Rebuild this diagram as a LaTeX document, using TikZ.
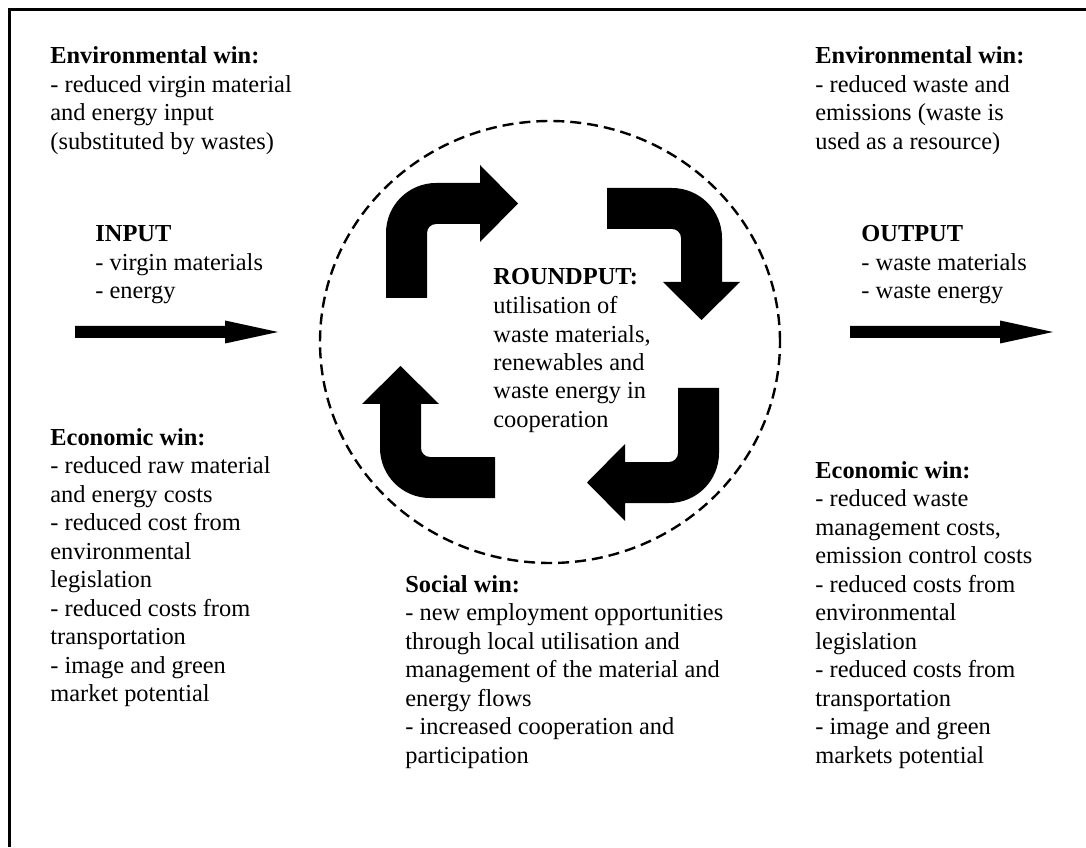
\documentclass[tikz,border=0pt]{standalone}
\usepackage{fontspec}
\setmainfont{Liberation Serif}
\begin{document}
\begin{tikzpicture}[x=0.5pt,y=0.5pt,
  txt/.style={anchor=base west, inner sep=0pt, align=left, font=\fontsize{12.2pt}{14.25pt}\selectfont},
  frameline/.style={line width=1.25pt},
  ring/.style={draw, dash pattern=on 5.5pt off 3pt, line width=1.2pt},
  bent/.pic={\fill (-50,-65) -- (-50,0) arc[start angle=180,end angle=90,radius=50] -- (44,50) -- (44,68) -- (82,29.5) -- (44,-9) -- (44,9) -- (0,9) arc[start angle=90,end angle=180,radius=9] -- (-9,-65) -- cycle;}
]
\useasboundingbox (0,0) rectangle (1086,847);
% frame
\draw[frameline] (9.3,0) -- (9.3,837.7) -- (1086,837.7);
% dashed ring
\draw[ring] (550,505) ellipse [x radius=230, y radius=221];
% bent arrows
\pic at (436,614) {bent};
\pic[rotate=-90] at (672,609) {bent};
\pic[rotate=180] at (669,394) {bent};
\pic[rotate=90] at (430,399) {bent};
% straight arrows
\coordinate (inS) at (75,515);
\coordinate (inT) at (278,515);
\coordinate (outS) at (850,515);
\coordinate (outT) at (1053,515);
\fill (inS) ++(0,6) -- ++(150,0) -- ++(0,5.5) -- (inT) -- ++(-53,-11.5) -- ++(0,5.5) -- ++(-150,0) -- cycle;
\fill (outS) ++(0,6) -- ++(150,0) -- ++(0,5.5) -- (outT) -- ++(-53,-11.5) -- ++(0,5.5) -- ++(-150,0) -- cycle;
% texts (anchor = baseline of the last line)
\node[txt] (envL) at (50,697.5) {\textbf{Environmental win:}\\- reduced virgin material\\and energy input\\(substituted by wastes)};
\node[txt] (envR) at (815,697.5) {\textbf{Environmental win:}\\- reduced waste and\\emissions (waste is\\used as a resource)};
\node[txt] (input) at (95,548) {\textbf{INPUT}\\- virgin materials\\- energy};
\node[txt] (output) at (861,548) {\textbf{OUTPUT}\\- waste materials\\- waste energy};
\node[txt] (round) at (493,419.5) {\textbf{ROUNDPUT:}\\utilisation of\\waste materials,\\renewables and\\waste energy in\\cooperation};
\node[txt] (econL) at (50,145.5) {\textbf{Economic win:}\\- reduced raw material\\and energy costs\\- reduced cost from\\environmental\\legislation\\- reduced costs from\\transportation\\- image and green\\market potential};
\node[txt] (social) at (405,84) {\textbf{Social win:}\\- new employment opportunities\\through local utilisation and\\management of the material and\\energy flows\\- increased cooperation and\\participation};
\node[txt] (econR) at (815,84) {\textbf{Economic win:}\\- reduced waste\\management costs,\\emission control costs\\- reduced costs from\\environmental\\legislation\\- reduced costs from\\transportation\\- image and green\\markets potential};
\end{tikzpicture}
\end{document}
